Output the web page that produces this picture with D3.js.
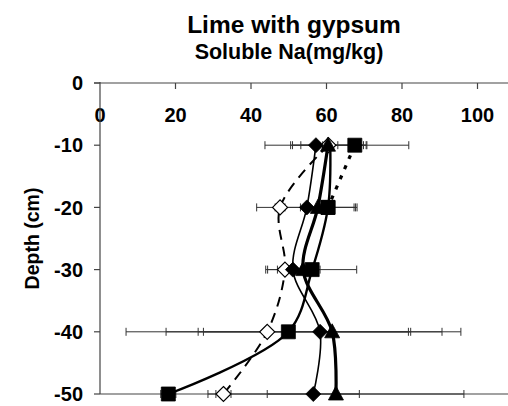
<!DOCTYPE html>
<html>
<head>
<meta charset="utf-8">
<script src="https://cdn.jsdelivr.net/npm/d3@7/dist/d3.min.js"></script>
<style>
  html, body { margin: 0; padding: 0; background: #fff; }
  svg { display: block; font-family: "Liberation Sans", Arial, sans-serif; }
</style>
</head>
<body>
<svg id="chart" width="508" height="406"></svg>
<script>
// Soluble Na profile by depth, lime with gypsum treatments
const depths = [-10, -20, -30, -40, -50];
const xTicks = [0, 20, 40, 60, 80, 100];
const yTicks = [0, -10, -20, -30, -40, -50];

const seriesDiamond     = [57.2, 54.8, 51.1, 58.3, 56.5];
const errDiamond        = [13.5, 13.3, 7.2, 32.3, 12.2];
const seriesOpenDiamond = [60.5, 47.7, 49.0, 44.3, 32.7];
const errOpenDiamond    = [10.0, 1.3, 2.0, 37.4, 2.0];
const seriesTriangle    = [60.4, 57.7, 53.8, 61.5, 62.5];
const errTriangle       = [9.4, 9.6, 2.0, 34.1, 33.9];
const seriesSquare      = [61.0, 60.4, 56.2, 49.9, 18.1];
const errSquare         = [2.0, 7.3, 11.8, 32.4, 2.0];
const markSquare        = [false, true, true, true, true];
// upper-layer readings drawn with a dotted connector
const depthsTop         = [-10, -20];
const seriesSquareTop   = [67.5, 60.4];
const errSquareTop      = [14.3, 0];

const svg = d3.select("#chart");

const x = d3.scaleLinear().domain([0, 110]).range([100, 515.25]);
const y = d3.scaleLinear().domain([0, -50]).range([83, 394]);

const axisColor = "#444";

// Titles
svg.append("text").attr("x", 294).attr("y", 33).attr("text-anchor", "middle")
  .attr("font-size", 24.5).attr("font-weight", "bold").text("Lime with gypsum");
svg.append("text").attr("x", 289).attr("y", 59).attr("text-anchor", "middle")
  .attr("font-size", 21.5).attr("font-weight", "bold").text("Soluble Na(mg/kg)");

// Top value axis (ticks pointing down into the plot)
svg.append("line").attr("x1", 94).attr("x2", 508).attr("y1", y(0)).attr("y2", y(0))
  .attr("stroke", axisColor).attr("stroke-width", 1.2);
svg.selectAll(".xtick").data(xTicks.slice(1)).join("line")
  .attr("x1", d => x(d)).attr("x2", d => x(d)).attr("y1", y(0)).attr("y2", y(0) + 6)
  .attr("stroke", axisColor).attr("stroke-width", 1.2);
svg.selectAll(".xlab").data(xTicks).join("text")
  .attr("x", d => x(d)).attr("y", 122).attr("text-anchor", "middle")
  .attr("font-size", 20).attr("font-weight", "bold").text(d => d);

// Depth axis
svg.append("line").attr("x1", x(0)).attr("x2", x(0)).attr("y1", y(0) - 1).attr("y2", y(-50))
  .attr("stroke", axisColor).attr("stroke-width", 1.2);
svg.selectAll(".ytick").data(yTicks).join("line")
  .attr("x1", x(0) - 6).attr("x2", x(0)).attr("y1", d => y(d)).attr("y2", d => y(d))
  .attr("stroke", axisColor).attr("stroke-width", 1.2);
svg.selectAll(".ylab").data(yTicks).join("text")
  .attr("x", 83).attr("y", d => y(d)).attr("dy", "0.36em").attr("text-anchor", "end")
  .attr("font-size", 20).attr("font-weight", "bold").text(d => d);
// baseline at the deepest layer
svg.append("line").attr("x1", x(0)).attr("x2", 508).attr("y1", y(-50)).attr("y2", y(-50))
  .attr("stroke", axisColor).attr("stroke-width", 1.2);

svg.append("text").attr("transform", `translate(39,${(y(0) + y(-50)) / 2}) rotate(-90)`)
  .attr("text-anchor", "middle").attr("font-size", 19.5).attr("font-weight", "bold")
  .text("Depth (cm)");

// Series definitions (marker drawing order follows this list)
const series = [
  { vals: seriesOpenDiamond, errs: errOpenDiamond, ds: depths, marker: "diamond", fill: "#fff", width: 2, dash: "10,7" },
  { vals: seriesSquare, errs: errSquare, ds: depths, marker: "square", fill: "#000", width: 2.4, dash: null, show: markSquare },
  { vals: seriesSquareTop, errs: errSquareTop, ds: depthsTop, marker: "square", fill: "#000", width: 3.2, dash: "4,7" },
  { vals: seriesDiamond, errs: errDiamond, ds: depths, marker: "diamond", fill: "#000", width: 1.6, dash: null },
  { vals: seriesTriangle, errs: errTriangle, ds: depths, marker: "triangle", fill: "#000", width: 3.2, dash: null }
];

// Error bars
const eb = svg.append("g").attr("stroke", "#333").attr("stroke-width", 1);
series.forEach(s => {
  s.vals.forEach((v, i) => {
    const e = s.errs[i];
    if (!e) return;
    const yy = y(s.ds[i]);
    eb.append("line").attr("x1", x(v - e)).attr("x2", x(v + e)).attr("y1", yy).attr("y2", yy);
    [v - e, v + e].forEach(c => {
      eb.append("line").attr("x1", x(c)).attr("x2", x(c)).attr("y1", yy - 4).attr("y2", yy + 4);
    });
  });
});

// Smoothed profile lines
const line = d3.line().x(d => x(d[0])).y(d => y(d[1])).curve(d3.curveCatmullRom.alpha(0.5));
series.forEach(s => {
  svg.append("path")
    .attr("d", line(s.vals.map((v, i) => [v, s.ds[i]])))
    .attr("fill", "none").attr("stroke", "#000").attr("stroke-width", s.width)
    .attr("stroke-dasharray", s.dash);
});

// Markers
const shapes = {
  diamond: "M0,-7.5L7.5,0L0,7.5L-7.5,0Z",
  square: "M-7,-7H7V7H-7Z",
  triangle: "M0,-8L7.5,6L-7.5,6Z"
};
series.forEach(s => {
  s.vals.forEach((v, i) => {
    if (s.show && !s.show[i]) return;
    svg.append("path").attr("d", shapes[s.marker])
      .attr("transform", `translate(${x(v)},${y(s.ds[i])})`)
      .attr("fill", s.fill).attr("stroke", "#000").attr("stroke-width", s.fill === "#fff" ? 1.2 : 0.8);
  });
});
</script>
</body>
</html>
